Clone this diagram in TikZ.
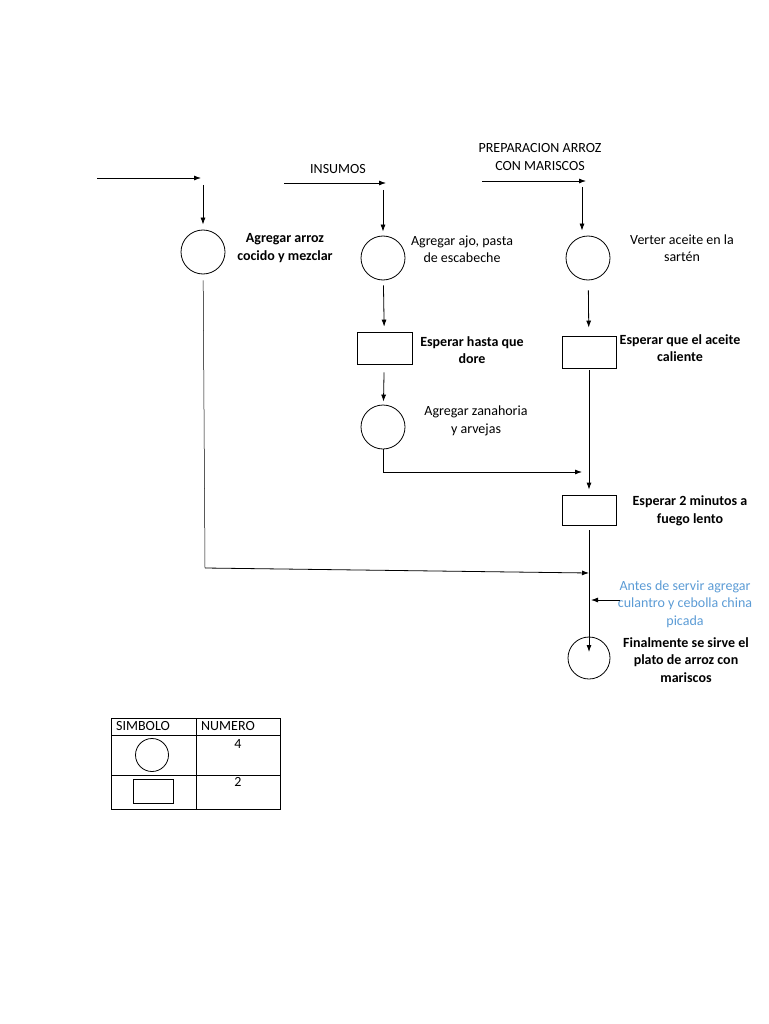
\documentclass[tikz,border=0pt]{standalone}
\usepackage{fontspec}
\setmainfont{Carlito}
\usetikzlibrary{arrows.meta,positioning}
\definecolor{notaazul}{RGB}{91,155,213}

\begin{document}
\begin{tikzpicture}[x=1pt, y=-1pt,
  paso/.style={draw, circle, minimum size=44pt, inner sep=0pt, line width=0.8pt},
  espera/.style={draw, minimum width=55pt, minimum height=32pt, inner sep=0pt, line width=0.8pt},
  texto/.style={align=center, font=\fontsize{14}{17.5}\selectfont},
  negrita/.style={texto, font=\fontsize{14}{17.5}\selectfont\bfseries},
  arrow/.style={-{Latex[length=7pt,width=5pt]}, line width=0.8pt},
  linea/.style={line width=0.8pt}
]
\useasboundingbox (0,0) rectangle (768,1024);

% pasos
\node[paso] (c1) at (203,252) {};
\node[paso] (c2) at (383,258) {};
\node[espera] (r1) at (384.5,348) {};
\node[paso] (c3) at (383,427) {};
\node[paso] (c4) at (588,258) {};
\node[espera, minimum width=54pt] (r2) at (589,352) {};
\node[espera, minimum width=54pt, minimum height=30pt] (r3) at (589,510) {};
\node[paso, minimum size=42pt] (c5) at (589,658) {};

% textos
\node[negrita] (t1) at (285,248) {Agregar arroz\\cocido y mezclar};
\node[texto] (ins) at (338,169) {INSUMOS};
\node[texto] (t2) at (462,249) {Agregar ajo, pasta\\de escabeche};
\node[negrita] (t3) at (472,350) {Esperar hasta que\\dore};
\node[texto] (t4) at (476,421) {Agregar zanahoria\\y arvejas};
\node[texto] (prep) at (540,157) {PREPARACION ARROZ\\CON MARISCOS};
\node[texto] (t5) at (682,248) {Verter aceite en la\\sartén};
\node[negrita] (t6) at (680,348) {Esperar que el aceite\\caliente};
\node[negrita] (t7) at (690,511) {Esperar 2 minutos a\\fuego lento};
\node[texto, text=notaazul] (t8) at (685,604) {Antes de servir agregar\\culantro y cebolla china\\picada};
\node[negrita] (t9) at (686,660) {Finalmente se sirve el\\plato de arroz con\\mariscos};

% entradas
\coordinate (e1) at (97,178);
\coordinate (f1) at (201,178);
\coordinate (g1) at (203,185);
\coordinate (e2) at (284,183);
\coordinate (f2) at (386,183);
\coordinate (g2) at (383,190);
\coordinate (e3) at (482,181);
\coordinate (f3) at (586,181);
\coordinate (g3) at (582,187);
\coordinate (k1) at (205,568);
\coordinate (j1) at (582,472);
\coordinate (j2) at (589,573);
\coordinate (bl) at (620,600);
\coordinate (bt) at (591,600);

\draw[arrow] (e1) -- (f1);
\draw[arrow, shorten >=5pt] (g1) -- (c1);
\draw[arrow] (e2) -- (f2);
\draw[arrow, shorten >=4pt] (g2) -- (c2);
\draw[arrow] (e3) -- (f3);
\draw[arrow, shorten >=5pt] (g3) -- (g3 |- c4.north);

% flujo
\draw[arrow, shorten <=5pt, shorten >=5pt] (c2) -- (r1);
\draw[arrow, shorten <=8pt, shorten >=3pt] (r1) -- (c3);
\draw[arrow] (c3) |- (j1);
\draw[arrow, shorten <=10pt, shorten >=8pt] (c4) -- (r2);
\draw[arrow, shorten <=2pt, shorten >=5pt] (r2) -- (r3);
\draw[line width=0.5pt, shorten <=6pt] (c1) -- (k1);
\draw[arrow] (k1) -- (j2);
\draw[arrow] (bl) -- (bt);
\draw[arrow, shorten <=5pt] (r3) -- ([yshift=6pt]c5.center);

% tabla
\draw[linea] (111,718) rectangle (280,809);
\draw[linea] (111,735) -- (280,735);
\draw[linea] (111,775) -- (280,775);
\draw[linea] (196,718) -- (196,809);
\node[texto, anchor=west, inner sep=0pt] (simb) at (116,726) {SIMBOLO};
\node[texto, anchor=west, inner sep=0pt] (num) at (201,726) {NUMERO};
\node[texto] (n4) at (238,744) {4};
\node[texto] (n2) at (238,782) {2};
\node[paso, minimum size=33pt] (s1) at (152,755) {};
\node[espera, minimum width=40pt, minimum height=24pt] (s2) at (153,791) {};
\end{tikzpicture}
\end{document}
